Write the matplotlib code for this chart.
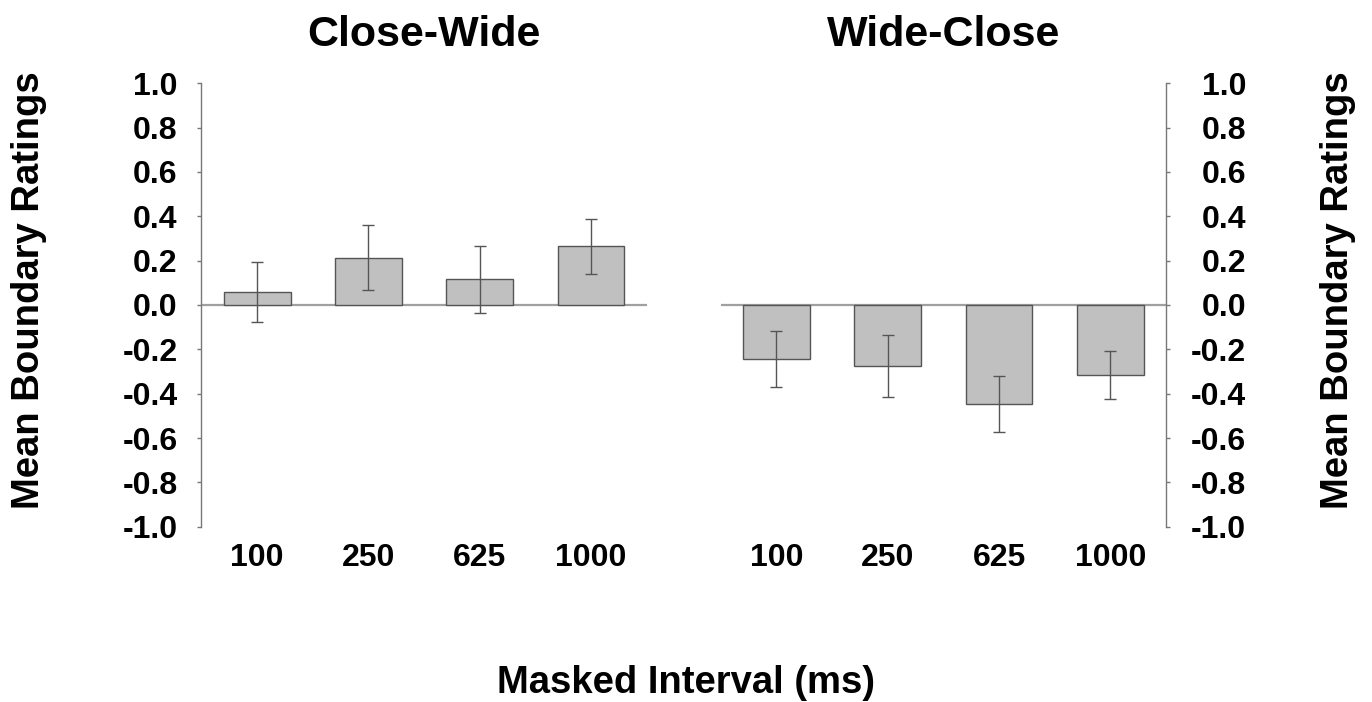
import matplotlib
matplotlib.use("Agg")
import matplotlib.pyplot as plt
import numpy as np

plt.rcParams['font.family'] = ['Liberation Sans', 'DejaVu Sans']
plt.rcParams['font.weight'] = 'bold'

categories = ["100", "250", "625", "1000"]
panel_titles = ["Close-Wide", "Wide-Close"]
close_wide_means = [0.057, 0.214, 0.116, 0.265]
close_wide_errs = [0.135, 0.147, 0.150, 0.123]
wide_close_means = [-0.242, -0.274, -0.448, -0.314]
wide_close_errs = [0.126, 0.139, 0.127, 0.108]
yticks = [1.0, 0.8, 0.6, 0.4, 0.2, 0.0, -0.2, -0.4, -0.6, -0.8, -1.0]
ylabel = "Mean Boundary Ratings"
xlabel = "Masked Interval (ms)"

W, H = 1372, 702
fig = plt.figure(figsize=(W / 100, H / 100), dpi=100)

bar_color = "#c0c0c0"
edge_color = "#555555"
err_color = "#555555"
spine_color = "#777777"
zero_color = "#a0a0a0"

ax_l = fig.add_axes([201.5 / W, 1 - 526.7 / H, (646.7 - 201.5) / W, (526.7 - 83.3) / H])
ax_r = fig.add_axes([720.7 / W, 1 - 526.7 / H, (1166.0 - 720.7) / W, (526.7 - 83.3) / H])

data = [(ax_l, close_wide_means, close_wide_errs, 'left'),
        (ax_r, wide_close_means, wide_close_errs, 'right')]

for ax, means, errs, side in data:
    x = np.arange(len(categories))
    ax.bar(x, means, width=0.6, color=bar_color, edgecolor=edge_color, linewidth=1.0, zorder=2)
    ax.errorbar(x, means, yerr=errs, fmt='none', ecolor=err_color, elinewidth=1.0,
                capsize=4, capthick=1.0, zorder=3)
    ax.axhline(0, color=zero_color, linewidth=1.6, zorder=1)
    ax.set_xlim(-0.5, 3.5)
    ax.set_ylim(-1.0, 1.0)
    ax.set_xticks(x)
    ax.set_xticklabels(categories, fontsize=23, fontweight='bold')
    ax.tick_params(axis='x', length=0, pad=12)
    ax.set_yticks(yticks)
    ax.set_yticklabels([f"{v:.1f}" for v in yticks], fontsize=23, fontweight='bold')
    for s in ['top', 'bottom']:
        ax.spines[s].set_visible(False)
    if side == 'left':
        ax.spines['right'].set_visible(False)
        ax.spines['left'].set_color(spine_color)
        ax.spines['left'].set_linewidth(1.0)
        ax.tick_params(axis='y', direction='out', length=3.1, width=1.0, color=spine_color, pad=14)
    else:
        ax.spines['left'].set_visible(False)
        ax.spines['right'].set_color(spine_color)
        ax.spines['right'].set_linewidth(1.0)
        ax.yaxis.tick_right()
        ax.tick_params(axis='y', direction='out', length=3.1, width=1.0, color=spine_color, pad=54.5)
        for lab in ax.get_yticklabels():
            lab.set_horizontalalignment('right')

# Titles
for ax, title in zip([ax_l, ax_r], panel_titles):
    pos = ax.get_position()
    fig.text((pos.x0 + pos.x1) / 2, 1 - 46.5 / H, title, ha='center', va='baseline',
             fontsize=31, fontweight='bold')

# Y labels
fig.text(29 / W, 1 - 290 / H, ylabel, rotation=90, ha='center', va='center',
         fontsize=27.5, fontweight='bold')
fig.text(1338 / W, 1 - 290 / H, ylabel, rotation=90, ha='center', va='center',
         fontsize=27.5, fontweight='bold')

# X label
fig.text(0.5, 1 - 683 / H, xlabel, ha='center', va='center', fontsize=27.5, fontweight='bold')

fig.savefig("out.png", dpi=100)
